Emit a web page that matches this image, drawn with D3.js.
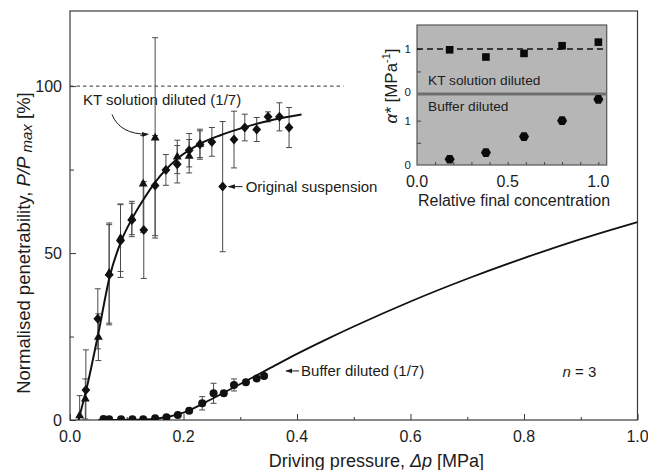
<!DOCTYPE html>
<html>
<head>
<meta charset="utf-8">
<script src="https://cdn.jsdelivr.net/npm/d3@7"></script>
<style>
    body { margin: 0; background: #fff; }
    svg { display: block; font-family: Arial, 'Liberation Sans', sans-serif; }
</style>
</head>
<body>
<svg id="penetrability" width="648" height="470"></svg>
<script>
// original suspension (diamonds)
const origX = [0.028, 0.049, 0.069, 0.089, 0.109, 0.130, 0.150, 0.169, 0.189, 0.210, 0.229, 0.250, 0.269, 0.289, 0.308, 0.329, 0.349, 0.369, 0.386]
const origY = [9.0, 30.3, 43.5, 53.7, 59.9, 56.9, 70.2, 74.9, 76.6, 80.8, 82.6, 83.3, 69.9, 84.0, 87.6, 87.0, 90.8, 90.8, 87.6]
const origErr = [12, 9, 15, 11, 5, 14.5, 15, 4.6, 5.6, 5, 4.5, 4.3, 19.5, 8.5, 4, 3.6, 1.5, 4.2, 6]

// KT solution diluted 1/7 (triangles)
const ktX = [0.017, 0.027, 0.050, 0.069, 0.089, 0.109, 0.129, 0.150, 0.189, 0.210, 0.229]
const ktY = [1.3, 6.3, 24.8, 44, 54.5, 60.5, 70.7, 84.5, 78.8, 79.0, 82.6]
const ktErr = [6, 6, 7, 15, 10, 5, 14.5, 30, 5, 5, 4]

// buffer diluted 1/7 (circles)
const bufX = [0.059, 0.069, 0.090, 0.110, 0.129, 0.150, 0.170, 0.190, 0.210, 0.233, 0.253, 0.271, 0.289, 0.310, 0.329, 0.342]
const bufY = [0.3, 0.2, 0.2, 0.2, 0.2, 0.5, 0.8, 1.5, 2.8, 5.0, 8.0, 8.0, 10.5, 11.3, 12.4, 13.2]
const bufErr = [0, 0, 0, 0, 0, 0, 0, 0.3, 0.5, 2, 3, 0.5, 1.8, 0.5, 0.5, 0.3]

// fitted curves
const origFitX = [0.015, 0.03, 0.05, 0.07, 0.09, 0.11, 0.13, 0.15, 0.19, 0.23, 0.265, 0.31, 0.36, 0.408]
const origFitY = [0, 10, 26, 43, 53.5, 60.5, 66.2, 71.2, 78.4, 82.8, 85.3, 87.8, 90, 91.5]
const bufFitX = [0.05, 0.12, 0.16, 0.2, 0.25, 0.3, 0.35, 0.4, 0.45, 0.5, 0.6, 0.7, 0.8, 0.9, 1.0]
const bufFitY = [0, 0.1, 0.6, 2.2, 6.3, 10.8, 15.3, 19.8, 24, 28, 35.5, 42.3, 48.5, 54.2, 59.3]

// inset: alpha* vs relative final concentration
const insetConc = [0.18, 0.38, 0.59, 0.80, 1.0]
const insetKT = [0.98, 0.82, 0.90, 1.07, 1.15]
const insetBuffer = [0.13, 0.28, 0.64, 1.0, 1.48]

const xTicks = [0, 0.2, 0.4, 0.6, 0.8, 1.0]
const yTicks = [0, 50, 100]
const insetXTicks = [0, 0.5, 1.0]

function main() {
    let svg = d3.select('#penetrability'),
        margin = {top: 11, right: 10.5, bottom: 50, left: 70},
        width = +svg.attr('width') - margin.left - margin.right,
        height = +svg.attr('height') - margin.top - margin.bottom,
        g = svg.append('g').attr('transform', 'translate(' + margin.left + ',' + margin.top + ')')

    let ink = '#1c1c1c', axisCol = '#3a3a3a', barCol = '#4a4a4a'

    let x = d3.scaleLinear().domain([0, 1]).range([0, width]),
        y = d3.scaleLinear().domain([0, 122.5]).range([height, 0])

    let defs = svg.append('defs')
    defs.append('clipPath').attr('id', 'plot-clip')
        .append('rect').attr('width', width).attr('height', height)
    defs.append('marker')
        .attr('id', 'arrow')
        .attr('viewBox', '0 0 10 10')
        .attr('refX', 9).attr('refY', 5)
        .attr('markerWidth', 7).attr('markerHeight', 7)
        .attr('orient', 'auto')
        .append('path')
        .attr('d', 'M0,1.5L10,5L0,8.5Z')
        .attr('fill', ink)

    // axes (ticks inside)
    g.append('g')
        .attr('transform', 'translate(0,' + height + ')')
        .call(d3.axisBottom(x).tickValues(d3.range(0, 1.01, 0.1)).tickSize(-4).tickFormat(''))
        .call(a => a.selectAll('.tick line').attr('y2', (d, i) => i % 2 ? -3 : -6))
        .call(a => a.select('.domain').remove())
        .selectAll('line').attr('stroke', axisCol)

    g.append('g')
        .call(d3.axisLeft(y).tickValues([0, 25, 50, 75, 100]).tickFormat('').tickSize(-4))
        .call(a => a.selectAll('.tick line').attr('x2', (d, i) => i % 2 ? 4 : 6))
        .call(a => a.select('.domain').remove())
        .selectAll('line').attr('stroke', axisCol)

    g.append('rect')
        .attr('width', width).attr('height', height)
        .attr('fill', 'none').attr('stroke', axisCol).attr('stroke-width', 1.2)

    g.selectAll('.xlab').data(xTicks).enter().append('text')
        .attr('x', d => x(d)).attr('y', height + 22)
        .attr('text-anchor', 'middle')
        .attr('font-size', 16).attr('fill', ink)
        .text(d => d3.format('.1f')(d))

    g.selectAll('.ylab').data(yTicks).enter().append('text')
        .attr('x', -8).attr('y', d => y(d)).attr('dy', '0.36em')
        .attr('text-anchor', 'end')
        .attr('font-size', 16).attr('fill', ink)
        .text(d => d)

    let xTitle = g.append('text')
        .attr('x', x(0.54)).attr('y', height + 47)
        .attr('text-anchor', 'middle').attr('font-size', 18).attr('fill', ink)
    xTitle.append('tspan').text('Driving pressure, ')
    xTitle.append('tspan').attr('font-style', 'italic').text('Δp')
    xTitle.append('tspan').text(' [MPa]')

    let yTitle = g.append('text')
        .attr('transform', 'translate(-40,' + (y(53)) + ') rotate(-90)')
        .attr('text-anchor', 'middle').attr('font-size', 18.5).attr('fill', ink)
    yTitle.append('tspan').text('Normalised penetrability, ')
    yTitle.append('tspan').attr('font-style', 'italic').text('P/P')
    yTitle.append('tspan').attr('font-style', 'italic').attr('font-size', 15).attr('dy', 2).text(' max')
    yTitle.append('tspan').attr('dy', -2).text(' [%]')

    // 100 % reference
    g.append('line')
        .attr('x1', 0).attr('x2', x(0.482))
        .attr('y1', y(100)).attr('y2', y(100))
        .attr('stroke', '#333').attr('stroke-dasharray', '3.5,3')

    let plot = g.append('g').attr('clip-path', 'url(#plot-clip)')

    const rows = (xs, ys, es) => xs.map((v, i) => ({x: v, y: ys[i], e: es[i]}))
    let series = [rows(origX, origY, origErr), rows(ktX, ktY, ktErr), rows(bufX, bufY, bufErr)]

    // error bars
    series.forEach(function (s) {
        let bars = plot.append('g').selectAll('g').data(s.filter(d => d.e > 0)).enter().append('g')
            .attr('stroke', barCol).attr('stroke-width', 1)
        bars.append('line')
            .attr('x1', d => x(d.x)).attr('x2', d => x(d.x))
            .attr('y1', d => y(d.y - d.e)).attr('y2', d => y(d.y + d.e))
        bars.append('line')
            .attr('x1', d => x(d.x) - 3).attr('x2', d => x(d.x) + 3)
            .attr('y1', d => y(d.y + d.e)).attr('y2', d => y(d.y + d.e))
        bars.append('line')
            .attr('x1', d => x(d.x) - 3).attr('x2', d => x(d.x) + 3)
            .attr('y1', d => y(d.y - d.e)).attr('y2', d => y(d.y - d.e))
    })

    // fit lines
    let line = d3.line()
        .curve(d3.curveMonotoneX)
        .x(d => x(d[0]))
        .y(d => y(d[1]))

    plot.append('path')
        .attr('d', line(d3.zip(origFitX, origFitY)))
        .attr('fill', 'none').attr('stroke', '#111').attr('stroke-width', 2)
    plot.append('path')
        .attr('d', line(d3.zip(bufFitX, bufFitY)))
        .attr('fill', 'none').attr('stroke', '#111').attr('stroke-width', 1.8)

    // markers
    plot.append('g').selectAll('path').data(series[1]).enter().append('path')
        .attr('transform', d => 'translate(' + x(d.x) + ',' + y(d.y) + ')')
        .attr('d', d3.symbol().type(d3.symbolTriangle).size(34))
        .attr('fill', '#111')
    plot.append('g').selectAll('path').data(series[0]).enter().append('path')
        .attr('transform', d => 'translate(' + x(d.x) + ',' + y(d.y) + ')')
        .attr('d', 'M0,-5L4.4,0L0,5L-4.4,0Z')
        .attr('fill', '#111')
    plot.append('g').selectAll('circle').data(series[2]).enter().append('circle')
        .attr('cx', d => x(d.x)).attr('cy', d => y(d.y)).attr('r', 4)
        .attr('fill', '#111')

    // annotations
    let ann = g.append('g').attr('font-size', 15).attr('fill', ink)
    ann.append('text').attr('x', x(0.023)).attr('y', y(94.3)).text('KT solution diluted (1/7)')
    ann.append('path')
        .attr('d', 'M' + x(0.074) + ',' + y(91.5) + 'Q' + x(0.088) + ',' + y(85.5) + ' ' + (x(0.15) - 7) + ',' + y(85.6))
        .attr('fill', 'none').attr('stroke', ink).attr('stroke-width', 1)
        .attr('marker-end', 'url(#arrow)')

    ann.append('line')
        .attr('x1', x(0.269) + 20).attr('x2', x(0.269) + 6)
        .attr('y1', y(69.9)).attr('y2', y(69.9))
        .attr('stroke', ink).attr('marker-end', 'url(#arrow)')
    ann.append('text').attr('x', x(0.269) + 23).attr('y', y(69.9)).attr('dy', '0.36em')
        .text('Original suspension')

    ann.append('line')
        .attr('x1', x(0.342) + 35).attr('x2', x(0.342) + 22)
        .attr('y1', y(14.7)).attr('y2', y(14.7))
        .attr('stroke', ink).attr('marker-end', 'url(#arrow)')
    ann.append('text').attr('x', x(0.342) + 37).attr('y', y(14.7)).attr('dy', '0.36em')
        .text('Buffer diluted (1/7)')

    let nText = ann.append('text').attr('x', x(0.868)).attr('y', y(14.4)).attr('dy', '0.36em')
    nText.append('tspan').attr('font-style', 'italic').text('n')
    nText.append('tspan').text(' = 3')

    // inset
    let inset = {left: 417, top: 25, width: 189.7, height: 140}
    let mid = inset.top + 69
    let ix = d3.scaleLinear().domain([0, 1.046]).range([inset.left, inset.left + inset.width]),
        iyTop = d3.scaleLinear().domain([0, 1.53]).range([mid, inset.top]),
        iyBot = d3.scaleLinear().domain([0, 1.6]).range([inset.top + inset.height, mid])

    let ig = svg.append('g')
    ig.append('rect')
        .attr('x', inset.left).attr('y', inset.top)
        .attr('width', inset.width).attr('height', inset.height)
        .attr('fill', '#b6b6b6').attr('stroke', '#555').attr('stroke-width', 1.2)

    ig.append('g')
        .attr('transform', 'translate(0,' + (inset.top + inset.height) + ')')
        .call(d3.axisBottom(ix).tickValues(d3.range(0.1, 1.01, 0.1)).tickSize(-3).tickFormat(''))
        .call(a => a.select('.domain').remove())
        .selectAll('line').attr('stroke', '#444')

    ig.append('g')
        .attr('transform', 'translate(' + inset.left + ',0)')
        .call(d3.axisLeft(iyTop).tickValues([0.5, 1]).tickSize(-4).tickFormat(''))
        .call(a => a.select('.domain').remove())
        .selectAll('line').attr('stroke', '#444')
    ig.append('g')
        .attr('transform', 'translate(' + inset.left + ',0)')
        .call(d3.axisLeft(iyBot).tickValues([0.5, 1]).tickSize(-4).tickFormat(''))
        .call(a => a.select('.domain').remove())
        .selectAll('line').attr('stroke', '#444')

    ig.append('line')
        .attr('x1', inset.left).attr('x2', inset.left + inset.width)
        .attr('y1', mid).attr('y2', mid)
        .attr('stroke', '#6e6e6e').attr('stroke-width', 3)

    ig.append('line')
        .attr('x1', inset.left).attr('x2', inset.left + inset.width)
        .attr('y1', iyTop(1)).attr('y2', iyTop(1))
        .attr('stroke', '#111').attr('stroke-width', 1.5).attr('stroke-dasharray', '6,4')

    let pairs = [[iyTop, 0], [iyTop, 1], [iyBot, 0], [iyBot, 1]]
    ig.selectAll('.iylab').data(pairs).enter().append('text')
        .attr('x', inset.left - 6).attr('y', d => d[0](d[1]) + (d[0] === iyTop && d[1] === 0 ? -2 : 0))
        .attr('dy', '0.36em').attr('text-anchor', 'end')
        .attr('font-size', 11.5).attr('fill', ink)
        .text(d => d[1])

    ig.selectAll('.ixlab').data(insetXTicks).enter().append('text')
        .attr('x', d => ix(d)).attr('y', inset.top + inset.height + 22)
        .attr('text-anchor', 'middle').attr('font-size', 16).attr('fill', ink)
        .text(d => d3.format('.1f')(d))

    ig.append('text')
        .attr('x', 514).attr('y', 206)
        .attr('text-anchor', 'middle').attr('font-size', 16).attr('fill', ink)
        .text('Relative final concentration')

    let iyTitle = ig.append('text')
        .attr('transform', 'translate(397,' + 86 + ') rotate(-90)')
        .attr('text-anchor', 'middle').attr('font-size', 17).attr('fill', ink)
    iyTitle.append('tspan').attr('font-style', 'italic').text('α*')
    iyTitle.append('tspan').text(' [MPa')
    iyTitle.append('tspan').attr('font-size', 11).attr('dy', -7).text('-1')
    iyTitle.append('tspan').attr('dy', 7).text(']')

    ig.append('text').attr('x', 428).attr('y', iyTop(0.3)).attr('dy', '0.36em')
        .attr('font-size', 13.7).attr('fill', ink).text('KT solution diluted')
    ig.append('text').attr('x', 428).attr('y', iyBot(1.32)).attr('dy', '0.36em')
        .attr('font-size', 13.7).attr('fill', ink).text('Buffer diluted')

    ig.append('g').selectAll('path').data(d3.zip(insetConc, insetKT)).enter().append('path')
        .attr('transform', d => 'translate(' + ix(d[0]) + ',' + iyTop(d[1]) + ')')
        .attr('d', d3.symbol().type(d3.symbolSquare).size(58))
        .attr('fill', '#0a0a0a')

    let hex = d3.range(6).map(k => [5 * Math.cos(k * Math.PI / 3), 5 * Math.sin(k * Math.PI / 3)])
    ig.append('g').selectAll('path').data(d3.zip(insetConc, insetBuffer)).enter().append('path')
        .attr('transform', d => 'translate(' + ix(d[0]) + ',' + iyBot(d[1]) + ')')
        .attr('d', 'M' + hex.join('L') + 'Z')
        .attr('fill', '#0a0a0a')
}

main()
</script>
</body>
</html>
